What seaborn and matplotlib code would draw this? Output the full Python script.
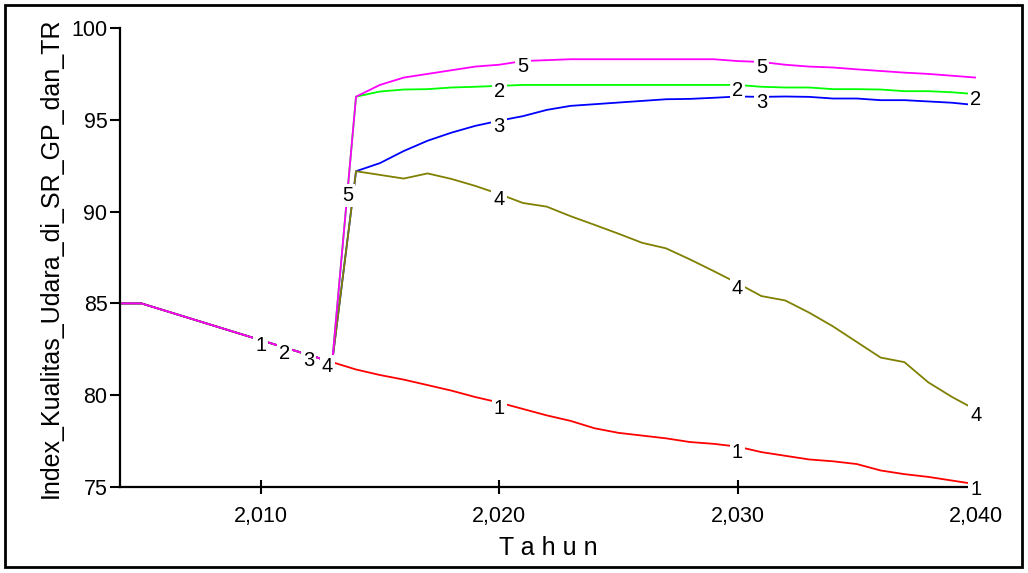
import numpy as np
import pandas as pd
import matplotlib
matplotlib.use('Agg')
import matplotlib.pyplot as plt
from matplotlib.patches import Rectangle
from matplotlib.ticker import FuncFormatter
import seaborn as sns

years = list(range(2004, 2041))

# shared history 2004-2013
common = [85.0, 85.0, 84.6, 84.2, 83.8, 83.4, 83.0, 82.6, 82.2, 81.8]

# 2014-2040 per scenario
run1 = [81.4, 81.1, 80.85, 80.55, 80.25, 79.9, 79.6, 79.25, 78.9, 78.6,
        78.2, 77.95, 77.8, 77.65, 77.45, 77.35, 77.2, 76.9, 76.7, 76.5,
        76.4, 76.25, 75.9, 75.7, 75.55, 75.35, 75.15]
run2 = [96.26, 96.54, 96.65, 96.67, 96.76, 96.8, 96.85, 96.9, 96.9, 96.9,
        96.9, 96.9, 96.9, 96.9, 96.9, 96.9, 96.9, 96.8, 96.76, 96.76,
        96.67, 96.67, 96.65, 96.56, 96.56, 96.5, 96.4]
run3 = [92.2, 92.64, 93.3, 93.86, 94.3, 94.67, 94.95, 95.2, 95.54, 95.76,
        95.85, 95.94, 96.03, 96.12, 96.14, 96.2, 96.27, 96.25, 96.27, 96.25,
        96.16, 96.16, 96.07, 96.07, 96.0, 95.93, 95.8]
run4 = [92.2, 92.0, 91.8, 92.08, 91.78, 91.4, 90.96, 90.47, 90.27, 89.75,
        89.28, 88.8, 88.3, 88.0, 87.4, 86.76, 86.1, 85.4, 85.16, 84.5,
        83.75, 82.9, 82.05, 81.8, 80.7, 79.9, 79.2]
run5 = [96.26, 96.9, 97.3, 97.5, 97.7, 97.9, 98.0, 98.2, 98.25, 98.3,
        98.3, 98.3, 98.3, 98.3, 98.3, 98.3, 98.2, 98.15, 98.0, 97.9,
        97.85, 97.75, 97.66, 97.57, 97.5, 97.4, 97.3]

run_names = ['1', '2', '3', '4', '5']
run_colors = ['#ff0000', '#00ff00', '#0000ff', '#808000', '#ff00ff']
# years where the run number is written on the line
label_years = [
    [2010, 2020, 2030, 2040],
    [2011, 2020, 2030, 2040],
    [2012, 2020, 2031],
    [2012.8, 2020, 2030, 2040],
    [2013.65, 2021, 2031],
]

y_ticks = [75, 80, 85, 90, 95, 100]
x_ticks = [2010, 2020, 2030, 2040]

sns.set_style('white')
plt.rcParams['font.family'] = ['Liberation Sans', 'DejaVu Sans']
plt.rcParams['text.color'] = 'black'
plt.rcParams['axes.labelcolor'] = 'black'
plt.rcParams['xtick.color'] = 'black'
plt.rcParams['ytick.color'] = 'black'

fig = plt.figure(figsize=(10.28, 5.73), dpi=100)
ax = fig.add_axes([0.1167, 0.1501, 0.8327, 0.801])

runs = [run1, run2, run3, run4, run5]
for name, vals, col in zip(run_names, runs, run_colors):
    df = pd.DataFrame({'Tahun': years, 'nilai': common + vals})
    sns.lineplot(data=df, x='Tahun', y='nilai', color=col,
                 linewidth=1.3, ax=ax)

for name, vals, yrs in zip(run_names, runs, label_years):
    full = common + vals
    for yr in yrs:
        ax.annotate(
            name,
            (yr, np.interp(yr, years, full)),
            xytext=(0, -4),
            textcoords='offset points',
            ha='center',
            va='center',
            fontsize=14.5,
            color='black',
            bbox=dict(boxstyle='square,pad=0.1', fc='white', ec='none'),
            zorder=5,
            annotation_clip=False
        )

ax.set_xlim(2004.1, 2040)
ax.set_ylim(75, 100)
ax.set_xticks(x_ticks)
ax.set_yticks(y_ticks)
ax.xaxis.set_major_formatter(FuncFormatter(lambda v, p: f'{v:,.0f}'))

for s in ['top', 'right']:
    ax.spines[s].set_visible(False)
for s in ['left', 'bottom']:
    ax.spines[s].set_linewidth(1.6)
    ax.spines[s].set_color('black')

ax.tick_params(axis='y', direction='out', length=7, width=1.5,
               labelsize=15.5, pad=2, left=True)
ax.tick_params(axis='x', direction='inout', length=10, width=1.5,
               labelsize=15.5, pad=9, bottom=True)

ax.set_xlabel('T a h u n', fontsize=18, labelpad=6)
ax.set_ylabel('Index_Kualitas_Udara_di_SR_GP_dan_TR', fontsize=18,
              labelpad=6)
ax.grid(False)

fig.add_artist(Rectangle((0.0049, 0.0105), 0.9893, 0.9808,
                         transform=fig.transFigure, fill=False,
                         edgecolor='black', linewidth=2))

fig.savefig('out.png', dpi=100)
